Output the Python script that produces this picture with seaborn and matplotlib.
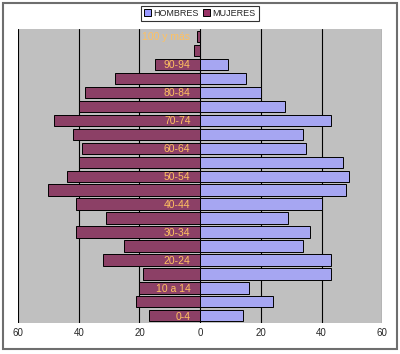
import pandas as pd
import numpy as np
import matplotlib
matplotlib.use('Agg')
import matplotlib.pyplot as plt
import seaborn as sns
from matplotlib.patches import Rectangle, Patch

# Datos de la piramide (de 0-4 a 100 y mas)
edades = ['0-4', '5-9', '10 a 14', '15-19', '20-24', '25-29', '30-34', '35-39',
          '40-44', '45-49', '50-54', '55-59', '60-64', '65-69', '70-74', '75-79',
          '80-84', '85-89', '90-94', '95-99', '100 y más']
hombres = [14, 24, 16, 43, 43, 34, 36, 29, 40, 48, 49, 47, 35, 34, 43, 28, 20, 15, 9, 0, 0]
mujeres = [17, 21, 20, 19, 32, 25, 41, 31, 41, 50, 44, 40, 39, 42, 48, 40, 38, 28, 15, 2, 1]
ticks_x = [-60, -40, -20, 0, 20, 40, 60]

col_h = '#9999FF'
col_m = '#993366'

df = pd.DataFrame({
    'edad': edades * 2,
    'valor': hombres + [-v for v in mujeres],
    'sexo': ['HOMBRES'] * len(edades) + ['MUJERES'] * len(edades),
})

orden = edades[::-1]  # 100 y mas arriba

sns.set_style('white')
plt.rcParams['font.family'] = ['Liberation Sans', 'DejaVu Sans']

fig = plt.figure(figsize=(4.0, 3.54), dpi=100)
ax = fig.add_axes([0.045, 0.088, 0.911, 0.829])
ax.set_facecolor('#C0C0C0')

sns.barplot(data=df, y='edad', x='valor', hue='sexo', order=orden,
            palette={'HOMBRES': col_h, 'MUJERES': col_m}, dodge=False,
            width=0.8, edgecolor='black', linewidth=0.7, legend=False, ax=ax)

ax.set_xlim(-60, 60)
ax.set_xticks(ticks_x)
ax.set_xticklabels([str(abs(t)) for t in ticks_x], fontsize=7)
ax.tick_params(axis='x', length=0, pad=4)
ax.grid(axis='x', color='black', linewidth=0.8)
ax.xaxis.set_zorder(0.5)

# etiquetas de edad dentro de las barras, una si otra no
ax.spines['left'].set_position(('data', 0))
etiquetas = [e if (len(edades) - 1 - i) % 2 == 0 else '' for i, e in enumerate(orden)]
ax.set_yticks(range(len(orden)))
ax.set_yticklabels(etiquetas, fontsize=7.5, color='#FFC060')
ax.tick_params(axis='y', length=0, pad=7)
ax.yaxis.set_zorder(3)

for s in ax.spines.values():
    s.set_visible(False)
ax.set_xlabel('')
ax.set_ylabel('')

handles = [Patch(facecolor=col_h, edgecolor='black', lw=0.7),
           Patch(facecolor=col_m, edgecolor='black', lw=0.7)]
leg = fig.legend(handles, ['HOMBRES', 'MUJERES'], loc='upper center',
                 bbox_to_anchor=(0.5, 0.997), ncol=2, fontsize=6.5,
                 frameon=True, fancybox=False, handlelength=0.7, handleheight=0.7,
                 handletextpad=0.3, columnspacing=0.5, borderpad=0.35,
                 edgecolor='black')
leg.get_frame().set_linewidth(0.8)

fig.add_artist(Rectangle((3 / 400, 1 - 349 / 354), 394 / 400, 346 / 354,
                         transform=fig.transFigure, fill=False,
                         edgecolor='#6E6E6E', linewidth=1.5))

fig.savefig('out.png', dpi=100, facecolor='white')
